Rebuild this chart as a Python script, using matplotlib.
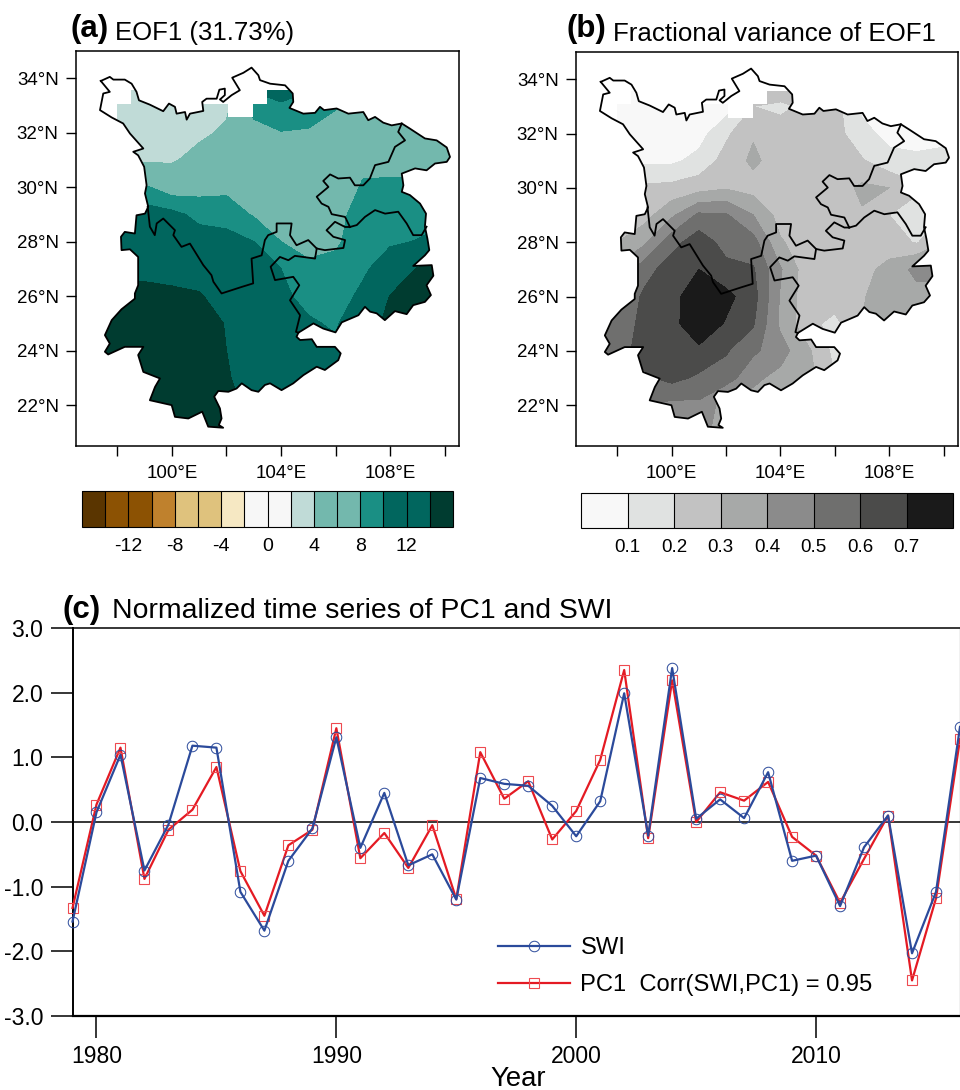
import numpy as np
import matplotlib
matplotlib.use("Agg")
import matplotlib.pyplot as plt
from matplotlib.patches import Polygon
from matplotlib.ticker import FormatStrFormatter

plt.rcParams['font.family'] = ['Liberation Sans', 'DejaVu Sans']
plt.rcParams['axes.unicode_minus'] = False

# time series
years = np.arange(1979, 2017)
swi = [-1.54, 0.15, 1.04, -0.75, -0.04, 1.18, 1.15, -1.08, -1.68, -0.60, -0.10, 1.31, -0.40,
       0.45, -0.67, -0.50, -1.20, 0.68, 0.59, 0.56, 0.25, -0.22, 0.32, 1.99, -0.21, 2.38,
       0.05, 0.35, 0.06, 0.77, -0.60, -0.52, -1.30, -0.39, 0.10, -2.03, -1.08, 1.47]
pc1 = [-1.33, 0.27, 1.15, -0.88, -0.12, 0.19, 0.85, -0.76, -1.45, -0.36, -0.12, 1.45, -0.56,
       -0.17, -0.71, -0.05, -1.19, 1.08, 0.36, 0.63, -0.27, 0.17, 0.96, 2.35, -0.25, 2.19,
       0.00, 0.46, 0.33, 0.62, -0.23, -0.52, -1.25, -0.57, 0.10, -2.45, -1.18, 1.28]

# gridded fields, one list per longitude, latitudes run north to south
grid_lon = np.arange(97, 112)
grid_lat = np.arange(35, 20, -1)
eof1 = [
    [3, 3, 3, 3, 3.7, 8.5, 11, 12, 13.5, 14.5, 15, 15.5, 16, 16, 16],
    [3, 3, 3, 3, 3.7, 8.5, 11, 12, 13.5, 14.5, 15, 15.5, 16, 16, 16],
    [3, 3, 3, 3, 3.6, 8.3, 11, 12, 13.3, 14.8, 15.5, 16, 16, 16, 16],
    [3, 3, 3, 3, 3.6, 6.8, 10.6, 11.6, 13, 14.6, 15.3, 16, 16, 16, 16],
    [3, 3, 3, 3.3, 5.2, 7.2, 9.4, 11, 12.5, 14.3, 14.8, 15.5, 16, 16, 16],
    [3, 3, 3.3, 4.6, 6, 7.5, 9.1, 10.8, 11.5, 12.5, 13.9, 14, 14.2, 15, 15],
    [11, 11, 9, 7, 6.5, 7, 7.8, 10, 10.5, 11, 12, 12.5, 13, 13, 13],
    [12, 12, 9.7, 7.9, 6.5, 6.5, 7, 8, 10, 10.5, 11, 11.5, 12, 12, 12],
    [11, 11, 9, 7.8, 6, 5.5, 6, 7, 8.6, 9.3, 10.3, 11, 11.5, 12, 12],
    [9, 9, 8.2, 7, 6, 6, 7.4, 7.7, 8.6, 9, 9.7, 10.5, 11, 11, 11],
    [7, 7, 7, 6.5, 7.3, 8.3, 8.8, 9, 9.6, 10.5, 12, 12, 12, 12, 12],
    [7, 7, 7, 7, 7.3, 8.4, 8.9, 9.7, 11.3, 14.1, 15, 15, 15, 15, 15],
    [7, 7, 7, 7, 7.3, 8.3, 9, 10.1, 14.2, 15.5, 16, 16, 16, 16, 16],
    [7, 7, 7, 7, 7, 8.1, 9, 11.5, 15, 16, 16, 16, 16, 16, 16],
    [7, 7, 7, 7, 7, 8.1, 9, 11.5, 15, 16, 16, 16, 16, 16, 16],
]
frac = [
    [.05, .05, .05, .05, .07, .22, .27, .3, .42, .5, .52, .55, .55, .55, .55],
    [.05, .05, .05, .05, .07, .22, .27, .3, .42, .5, .52, .55, .55, .55, .55],
    [.05, .05, .05, .05, .08, .22, .26, .38, .56, .62, .64, .65, .58, .5, .45],
    [.05, .05, .05, .05, .08, .23, .38, .56, .65, .67, .67, .66, .63, .47, .42],
    [.04, .04, .04, .06, .13, .26, .52, .66, .7, .76, .77, .68, .58, .48, .45],
    [.05, .05, .05, .18, .24, .29, .51, .56, .63, .73, .69, .61, .55, .35, .33],
    [.25, .25, .2, .29, .32, .26, .4, .54, .61, .64, .61, .52, .42, .36, .33],
    [.25, .25, .19, .22, .25, .25, .26, .31, .41, .39, .38, .44, .37, .33, .33],
    [.25, .25, .21, .25, .25, .25, .25, .25, .24, .24, .23, .32, .34, .34, .34],
    [.25, .25, .24, .24, .25, .25, .27, .25, .25, .25, .17, .17, .2, .3, .3],
    [.08, .08, .08, .13, .21, .32, .29, .25, .27, .29, .3, .3, .3, .3, .3],
    [.05, .05, .05, .07, .13, .3, .2, .25, .33, .36, .35, .3, .3, .3, .3],
    [.05, .05, .05, .06, .12, .22, .15, .19, .43, .36, .34, .3, .3, .3, .3],
    [.05, .05, .05, .06, .14, .2, .2, .3, .43, .36, .34, .3, .3, .3, .3],
    [.05, .05, .05, .06, .14, .2, .2, .3, .43, .36, .34, .3, .3, .3, .3],
]

# cells with no data: lon0, lon1, lat0, lat1
missing = [(97, 111, 33.56, 35), (97, 98.5, 33.07, 33.56), (99, 103.5, 33.07, 33.56),
           (97, 98, 32, 33.07), (102.07, 102.98, 32.56, 33.07)]

# region outline, clockwise
outline_lon = [97.39, 97.72, 97.85, 98.27, 98.52, 98.70, 98.79, 99.19, 99.68, 99.89, 100.11, 100.17,
               100.48, 100.54, 100.66, 101.15, 101.11, 101.27, 101.64, 101.74, 101.94, 101.94, 101.76,
               101.88, 102.19, 102.49, 102.21, 102.62, 102.92, 103.17, 103.23, 103.60, 104.15, 104.43,
               104.45, 104.31, 104.82, 105.25, 105.43, 105.58, 106.04, 106.47, 107.02, 107.20, 107.45,
               107.75, 108.06, 108.43, 108.73, 109.28, 109.71, 110.08, 110.20, 110.08, 109.65, 109.34,
               108.92, 108.43, 108.49, 108.43, 108.73, 109.10, 109.32, 109.28, 109.37, 109.44, 109.28,
               108.85, 109.53, 109.59, 109.34, 109.50, 109.28, 108.85, 108.61, 108.18, 107.81, 107.51,
               107.27, 107.08, 106.84, 106.23, 106.00, 105.55, 105.19, 104.64, 104.57, 104.70, 105.13,
               105.31, 105.98, 106.19, 106.10, 105.61, 105.31, 104.82, 104.45, 104.02, 103.60, 103.41,
               103.17, 102.92, 102.56, 102.37, 102.07, 101.70, 101.55, 101.76, 101.82, 101.72, 101.88,
               101.33, 101.11, 100.60, 100.11, 99.99, 99.19, 99.38, 99.56, 98.95, 98.76, 98.95, 98.27,
               97.66, 97.54, 97.72, 97.54, 97.79, 98.15, 98.64, 98.64, 98.76, 98.76, 98.46, 98.15, 98.13,
               98.27, 98.64, 98.70, 99.01, 99.13, 99.01, 99.07, 98.98, 98.76, 98.58, 98.95, 98.46, 98.21,
               97.79, 97.36, 97.48, 97.72]
outline_lat = [33.90, 34.05, 33.95, 33.95, 33.80, 33.50, 33.19, 33.03, 32.79, 33.07, 32.95, 32.70,
               32.76, 32.48, 32.70, 32.80, 33.13, 33.25, 33.25, 33.58, 33.62, 33.38, 33.22,
               33.13, 33.38, 33.56, 34.02, 34.20, 34.39, 34.11, 33.93, 33.80, 33.74, 33.44,
               33.13, 32.91, 32.70, 32.73, 32.95, 32.83, 32.89, 32.70, 32.76, 32.46, 32.58,
               32.37, 32.27, 32.34, 32.15, 31.79, 31.72, 31.46, 31.11, 30.93, 30.87, 30.62,
               30.69, 30.50, 30.07, 29.83, 29.71, 29.40, 29.03, 28.55, 28.12, 27.69, 27.50,
               27.11, 27.14, 26.75, 26.40, 26.04, 25.79, 25.67, 25.34, 25.45, 25.12, 25.37,
               25.43, 25.61, 25.30, 25.04, 24.67, 24.81, 25.00, 24.66, 24.51, 24.39, 24.42,
               24.14, 24.14, 23.90, 23.65, 23.29, 23.41, 23.10, 22.80, 22.55, 22.80, 22.74,
               22.49, 22.55, 22.80, 22.61, 22.49, 22.52, 22.31, 21.88, 21.51, 21.27, 21.17,
               21.21, 21.76, 21.51, 21.57, 22.00, 22.18, 22.67, 22.98, 23.22, 23.84, 24.14, 24.14,
               23.86, 23.96, 24.26, 24.57, 25.12, 25.52, 25.91, 26.10, 26.40, 27.44, 27.72, 27.69, 28.18,
               28.36, 28.30, 28.97, 29.03, 29.28, 29.77, 30.07, 30.75, 31.17, 31.30, 31.42, 31.97, 32.34,
               32.56, 32.83, 33.44, 33.50]

# province borders
border_lon = [
    [99.11, 99.19, 99.37, 99.44, 99.68, 100.11, 100.05, 100.35, 100.66, 101.15, 101.45, 101.52, 101.82,
     102.56, 102.98, 102.92, 103.29, 103.41, 103.53, 103.84, 103.84, 104.39, 104.33, 104.57, 105.00, 105.31,
     105.61, 106.29, 106.35, 105.92, 105.67, 105.98, 106.35, 106.53],
    [108.43, 108.30, 108.55, 108.18, 107.94, 107.45, 107.26, 107.02, 106.71, 106.53, 106.10, 105.80, 105.55,
     105.74, 105.31, 105.49, 105.74, 105.86, 106.35, 106.53],
    [106.53, 106.78, 107.08, 107.45, 107.82, 108.30, 108.61, 108.85, 109.16, 109.34],
    [105.31, 105.25, 104.51, 104.27, 103.96, 103.62, 103.78, 104.45, 104.67, 104.33, 104.70, 104.55, 104.64],
]
border_lat = [
    [29.28, 28.55, 28.24, 28.67, 28.85, 28.42, 28.24, 27.81, 27.93, 27.14, 26.77, 26.53, 26.10,
     26.34, 26.47, 27.38, 27.50, 28.06, 28.24, 28.36, 28.67, 28.67, 28.24, 27.87, 28.06, 27.75,
     27.69, 27.77, 28.06, 28.18, 28.42, 28.73, 28.54, 28.54],
    [32.34, 32.03, 31.72, 31.48, 30.93, 30.81, 30.32, 30.07, 30.07, 30.35, 30.32, 30.47, 30.23,
     30.01, 29.65, 29.40, 29.28, 29.01, 28.91, 28.54],
    [28.54, 28.61, 28.91, 29.16, 29.03, 29.10, 28.67, 28.24, 28.24, 28.55],
    [27.75, 27.38, 27.48, 27.32, 27.44, 27.08, 26.59, 26.71, 26.40, 25.85, 25.30, 24.69, 24.66],
]

eof_levels = np.arange(-14, 15, 2)
eof_colors = ['#5a3500', '#8c5203', '#8c5203', '#bf812d', '#dfc27d', '#dfc27d', '#f6e8c3', '#f7f7f7',
              '#f7f7f7', '#c0dbd7', '#73b8ad', '#73b8ad', '#1a8f84', '#01665e', '#01665e', '#003c30']
eof_ticks = [-12, -8, -4, 0, 4, 8, 12]
frac_levels = np.arange(0.1, 0.71, 0.1)
frac_colors = ['#f8f8f8', '#e0e2e1', '#c2c2c2', '#a7a9a8', '#8b8b8b', '#6f6f6e', '#4b4b4a', '#1a1a1a']
frac_ticks = [0.1, 0.2, 0.3, 0.4, 0.5, 0.6, 0.7]

W, H = 960, 1090


def add_axes(left, top, right, bottom):
    return fig.add_axes([left / W, 1 - bottom / H, (right - left) / W, (bottom - top) / H])


def label(x, y, s, **kw):
    fig.text(x / W, 1 - y / H, s, va='baseline', **kw)


def draw_map(ax, field, levels, colors):
    cs = ax.contourf(grid_lon, grid_lat, np.array(field).T, levels=levels, colors=colors, extend='both')
    clip = Polygon(np.column_stack([outline_lon, outline_lat]), closed=True, transform=ax.transData,
                   fc='none', ec='none')
    ax.add_patch(clip)
    cs.set_clip_path(clip)
    for lon0, lon1, lat0, lat1 in missing:
        ax.fill([lon0, lon1, lon1, lon0], [lat0, lat0, lat1, lat1], color='white', lw=0, zorder=2)
    ax.plot(outline_lon + outline_lon[:1], outline_lat + outline_lat[:1], color='k', lw=1.3, zorder=3)
    for lons, lats in zip(border_lon, border_lat):
        ax.plot(lons, lats, color='k', lw=1.3, zorder=3)
    ax.set_xlim(96.48, 110.53)
    ax.set_ylim(20.5, 35)
    ax.set_xticks(np.arange(98, 111, 2))
    ax.set_xticklabels(['', '100°E', '', '104°E', '', '108°E', ''], fontsize=13.5)
    ax.set_yticks(np.arange(22, 35, 2))
    ax.set_yticklabels([f'{v}°N' for v in range(22, 35, 2)], fontsize=13.5)
    ax.tick_params(length=7.5, width=1.0, pad=5)
    ax.tick_params(axis='x', pad=6)
    for s in ax.spines.values():
        s.set_linewidth(1.1)
    return cs


def draw_cbar(cs, cax, ticks, frac_ext, size, fmt=None):
    cb = fig.colorbar(cs, cax=cax, orientation='horizontal', ticks=ticks, extendrect=True,
                      extendfrac=frac_ext, drawedges=True)
    cb.dividers.set_color('k')
    cb.dividers.set_linewidth(0.8)
    cb.outline.set_linewidth(0.8)
    cb.ax.tick_params(length=0, labelsize=size, pad=8)
    if fmt:
        cb.ax.xaxis.set_major_formatter(FormatStrFormatter(fmt))


fig = plt.figure(figsize=(W / 100, H / 100), dpi=100)

ax_a = add_axes(76, 51, 459, 446)
cs_a = draw_map(ax_a, eof1, eof_levels, eof_colors)
draw_cbar(cs_a, add_axes(82, 491, 453, 527), eof_ticks, 1 / 14, 14)
label(71, 37, '(a)', fontsize=22.5, fontweight='bold')
label(115, 40, 'EOF1 (31.73%)', fontsize=18.5)

ax_b = add_axes(576, 52, 958, 446)
cs_b = draw_map(ax_b, frac, frac_levels, frac_colors)
draw_cbar(cs_b, add_axes(581, 493, 953, 528), frac_ticks, 1 / 6, 13.5, '%.1f')
label(566, 37, '(b)', fontsize=22.5, fontweight='bold')
label(613, 41, 'Fractional variance of EOF1', fontsize=18.6)

ax_c = add_axes(72.5, 628, 960, 1016)
ax_c.axhline(0, color='k', lw=1.1, zorder=1)
ax_c.plot(years, pc1, color='#e41a23', lw=1.6, marker='s', ms=7.8, mfc='none', mec='#ee4a50', mew=0.8, clip_on=False,
          label='PC1  Corr(SWI,PC1) = 0.95', zorder=3)
ax_c.plot(years, swi, color='#2b4a9b', lw=1.6, marker='o', ms=7.6, mfc='none', mew=0.7, clip_on=False,
          label='SWI', zorder=4)
ax_c.set_xlim(1979, 2016)
ax_c.set_ylim(-3, 3)
ax_c.set_xticks([1980, 1990, 2000, 2010])
ax_c.set_yticks(np.arange(-3, 3.1, 1))
ax_c.yaxis.set_major_formatter(FormatStrFormatter('%.1f'))
ax_c.tick_params(length=16, width=1.1, labelsize=16.5, pad=5)
ax_c.spines['left'].set_linewidth(1.4)
ax_c.spines['bottom'].set_linewidth(1.6)
ax_c.spines['top'].set_linewidth(1.1)
ax_c.spines['right'].set_linewidth(0.8)
handles, labels = ax_c.get_legend_handles_labels()
ax_c.legend(handles[::-1], labels[::-1], loc='lower left', bbox_to_anchor=(0.479, 0.051), frameon=False,
            fontsize=17.1, handlelength=3.03, handletextpad=0.46, labelspacing=0.62, borderpad=0, borderaxespad=0)
label(63, 618, '(c)', fontsize=22.5, fontweight='bold')
label(112, 618, 'Normalized time series of PC1 and SWI', fontsize=20.4)
label(490, 1086, 'Year', fontsize=19.8)

fig.savefig('out.png', dpi=100)
